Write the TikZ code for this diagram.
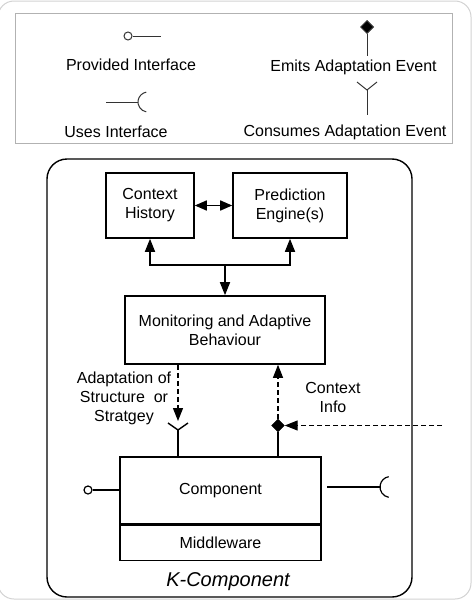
\documentclass[tikz,border=0pt]{standalone}
\usepackage{fontspec}
\setmainfont{Liberation Sans}
\usetikzlibrary{arrows.meta,shapes.geometric}

\begin{document}
\begin{tikzpicture}[x=1pt,y=-1pt,
  every node/.style = {font=\fontsize{16}{19}\selectfont, align=center},
  box/.style = {draw, line width=1.6pt, inner sep=0pt},
  arr/.style = {line width=1.6pt, -{Triangle[length=13pt,width=10pt]}},
  dasharr/.style = {line width=1.2pt, dash pattern=on 5pt off 3pt,
    -{Triangle[length=13pt,width=10pt]}},
  sym/.style = {line width=1pt, draw=black!80},
  emits/.style = {diamond, draw, fill=black, inner sep=0pt, minimum size=13pt},
  provided/.style = {circle, draw, fill=white, inner sep=0pt, minimum size=8pt}]
  \useasboundingbox (0,0) rectangle (474,605);
  \draw[gray!35, line width=1pt, rounded corners=16pt] (-2,1) rectangle (471,599);

  % legend
  \draw[gray!60, line width=1pt] (15,13) rectangle (452,143);
  \node[provided, sym] (lprov) at (128,36) {};
  \coordinate (lprovend) at (161,36);
  \draw[sym] (lprov) -- (lprovend);
  \node (lprovtxt) at (131,65) {Provided Interface};
  \coordinate (lusesstart) at (106,102);
  \coordinate (lusesend) at (138,102);
  \draw[sym] (lusesstart) -- (lusesend);
  \draw[sym] ([shift={(10,0)}]lusesend) ++(100:10) arc[start angle=100, end angle=260, radius=10];
  \node (lusestxt) at (116,132) {Uses Interface};
  \node[emits, sym] (lemit) at (367,27) {};
  \coordinate (lemitend) at (367,56);
  \draw[sym] (lemit) -- (lemitend);
  \node (lemittxt) at (353.5,67) {Emits Adaptation Event};
  \coordinate (lcons) at (367,90);
  \coordinate (lconsend) at (367,115);
  \draw[sym] ([shift={(-10,-8)}]lcons) -- (lcons) -- ([shift={(10,-8)}]lcons);
  \draw[sym] (lcons) -- (lconsend);
  \node (lconstxt) at (345,132) {Consumes Adaptation Event};

  % K-Component
  \draw[line width=1.4pt, rounded corners=20pt] (47,159) rectangle (412,597);
  \node[font=\fontsize{20}{24}\selectfont\itshape] (klabel) at (228,582) {K-Component};

  \node[box, minimum width=88pt, minimum height=65pt] (hist) at (150,205.5) {Context\\History};
  \node[box, minimum width=114pt, minimum height=65pt] (pred) at (290,205.5) {Prediction\\Engine(s)};
  \draw[line width=1.6pt, {Triangle[length=12pt,width=10pt]}-{Triangle[length=12pt,width=10pt]}] (hist) -- (pred);

  \node[box, minimum width=200pt, minimum height=68pt] (mon) at (225,330) {Monitoring and Adaptive\\Behaviour};
  \coordinate (split) at (225,265);
  \draw[arr] (split) -- (mon);
  \draw[arr] (split) -| (hist);
  \draw[arr] (split) -| (pred);

  \node[box, minimum width=201pt, minimum height=67pt] (comp) at (220.5,490.5) {Component};
  \node[box, minimum width=201pt, minimum height=35pt, anchor=north] (mid) at (comp.south) {Middleware};

  % consumes adaptation event
  \coordinate (cons) at (178,430);
  \coordinate (constip) at (178,421);
  \draw[line width=1.4pt] ([shift={(-10,-7)}]cons) -- (cons) -- ([shift={(10,-7)}]cons);
  \draw[line width=1.4pt] (cons) -- (cons |- comp.north);
  \draw[dasharr] (mon.south -| cons) -- (constip);
  \node (adapt) at (124,398) {Adaptation of\\Structure~ or\\Stratgey};

  % emits adaptation event
  \node[emits] (emit) at (278,425.5) {};
  \draw[line width=1.4pt] (emit) -- (emit |- comp.north);
  \draw[dasharr] (emit) -- (emit |- mon.south);
  \coordinate (ctx) at (442,425.5);
  \draw[dasharr] (ctx) -- (emit);
  \node (ctxinfo) at (333,397.5) {Context\\Info};

  % interfaces
  \node[provided, line width=1.2pt] (prov) at (88,490) {};
  \draw[line width=1.2pt] (prov) -- (prov -| comp.west);
  \coordinate (usesstart) at (327,487);
  \coordinate (usesend) at (380,487);
  \draw[line width=1.2pt] (usesstart) -- (usesend);
  \draw[line width=1.2pt] ([shift={(10.5,0)}]usesend) ++(100:10.5) arc[start angle=100, end angle=260, radius=10.5];
\end{tikzpicture}
\end{document}
